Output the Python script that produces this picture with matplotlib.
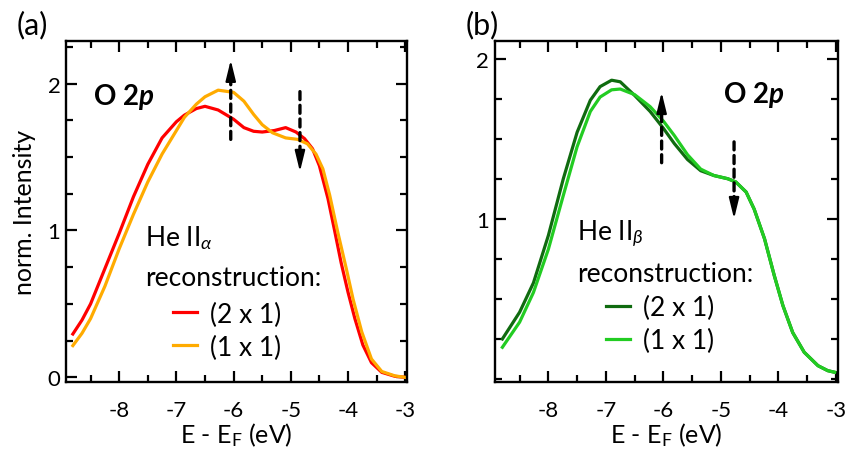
import matplotlib
matplotlib.use("Agg")
import matplotlib.pyplot as plt
from matplotlib.ticker import MultipleLocator

plt.rcParams['font.family'] = ['Lato', 'DejaVu Sans']
plt.rcParams['mathtext.fontset'] = 'custom'
plt.rcParams['mathtext.rm'] = 'Lato'
plt.rcParams['mathtext.it'] = 'Lato:italic'
plt.rcParams['mathtext.bf'] = 'Lato:bold'
plt.rcParams['mathtext.bfit'] = 'Lato:bold:italic'

# panel (a): He II alpha
e_red = [-8.81, -8.65, -8.5, -8.25, -8.0, -7.75, -7.5, -7.25, -7.0, -6.86, -6.65, -6.5,
         -6.27, -6.0, -5.82, -5.65, -5.5, -5.29, -5.09, -4.91, -4.76, -4.62, -4.5, -4.35,
         -4.24, -4.12, -4.0, -3.88, -3.74, -3.59, -3.41, -3.18, -3.0]
red_2x1 = [0.295, 0.39, 0.50, 0.74, 0.98, 1.23, 1.45, 1.63, 1.74, 1.785, 1.83, 1.845,
           1.82, 1.757, 1.70, 1.675, 1.67, 1.68, 1.70, 1.67, 1.625, 1.556, 1.44, 1.216,
           1.01, 0.78, 0.58, 0.40, 0.22, 0.10, 0.034, 0.007, 0.0]
e_orange = [-8.81, -8.65, -8.5, -8.25, -8.0, -7.75, -7.5, -7.25, -7.0, -6.86, -6.65,
            -6.5, -6.27, -6.0, -5.82, -5.65, -5.5, -5.32, -5.09, -4.88, -4.71, -4.56,
            -4.44, -4.32, -4.18, -4.03, -3.91, -3.76, -3.59, -3.41, -3.18, -3.0]
orange_1x1 = [0.216, 0.30, 0.40, 0.62, 0.875, 1.11, 1.33, 1.52, 1.68, 1.77, 1.86, 1.91,
              1.955, 1.94, 1.88, 1.79, 1.72, 1.665, 1.63, 1.62, 1.59, 1.52, 1.42, 1.24,
              0.99, 0.74, 0.53, 0.31, 0.125, 0.04, 0.01, 0.0]

# panel (b): He II beta
e_b = [-8.8, -8.5, -8.26, -8.0, -7.74, -7.5, -7.27, -7.1, -6.9, -6.75, -6.5, -6.23,
       -6.0, -5.81, -5.58, -5.35, -5.12, -4.88, -4.74, -4.56, -4.42, -4.24, -4.07,
       -3.92, -3.75, -3.55, -3.31, -3.14, -3.02]
dark_2x1 = [0.25, 0.417, 0.60, 0.896, 1.25, 1.54, 1.74, 1.825, 1.865, 1.855, 1.77, 1.67,
            1.565, 1.47, 1.37, 1.30, 1.27, 1.25, 1.23, 1.167, 1.06, 0.875, 0.645,
            0.458, 0.29, 0.167, 0.083, 0.052, 0.042]
light_1x1 = [0.198, 0.355, 0.54, 0.81, 1.146, 1.45, 1.67, 1.76, 1.805, 1.81, 1.775, 1.70,
             1.61, 1.52, 1.40, 1.31, 1.27, 1.25, 1.23, 1.167, 1.06, 0.875, 0.645,
             0.458, 0.29, 0.167, 0.083, 0.052, 0.042]

xticks = [-8, -7, -6, -5, -4, -3]

fig = plt.figure(figsize=(8.46, 4.56), dpi=100)
ax_a = fig.add_axes([0.078, 0.160, 0.403, 0.748])
ax_b = fig.add_axes([0.585, 0.160, 0.405, 0.748])

ann = 19


def style(ax):
    ax.set_xlim(-8.93, -2.97)
    ax.set_xticks(xticks)
    ax.set_xticklabels([str(t) for t in xticks])
    ax.xaxis.set_minor_locator(MultipleLocator(0.5))
    ax.yaxis.set_minor_locator(MultipleLocator(0.25))
    ax.tick_params(which='both', direction='in', top=True, right=True,
                   labelsize=16, width=1.6)
    ax.tick_params(axis='x', pad=13)
    ax.tick_params(axis='y', pad=4)
    ax.tick_params(which='major', length=8)
    ax.tick_params(which='minor', length=5)
    for s in ax.spines.values():
        s.set_linewidth(1.7)
    ax.set_xlabel(r"E - E$_\mathrm{F}$ (eV)", fontsize=18, labelpad=0)


def legend(ax, x, y):
    ax.legend(loc='upper left', bbox_to_anchor=(x, y), frameon=False, fontsize=ann,
              handlelength=0.9, handletextpad=0.5, labelspacing=0.3, borderpad=0,
              borderaxespad=0)


def dashed_arrow(ax, x, y0, y1, head):
    # dashed shaft, then a solid head ending at y1
    step = head if y1 > y0 else -head
    ax.annotate("", xy=(x, y1 - 0.6 * step), xytext=(x, y0),
                arrowprops=dict(arrowstyle='-', color='black', lw=2.4,
                                ls=(0, (2.4, 1.7)), shrinkA=0, shrinkB=0))
    ax.annotate("", xy=(x, y1), xytext=(x, y1 - step),
                arrowprops=dict(arrowstyle='-|>,head_length=0.9,head_width=0.22',
                                color='black', lw=1.5, mutation_scale=14,
                                shrinkA=0, shrinkB=0))


# (a)
ax_a.plot(e_red, red_2x1, color='#ff0000', lw=2.3, label='(2 x 1)')
ax_a.plot(e_orange, orange_1x1, color='#ffab00', lw=2.3, label='(1 x 1)')
style(ax_a)
ax_a.set_ylim(-0.032, 2.29)
ax_a.set_yticks([0, 1, 2])
ax_a.set_ylabel("norm. Intensity", fontsize=18, labelpad=8)
ax_a.text(0.079, 0.84, r"$\mathbf{O\ 2}\mathbfit{p}$", transform=ax_a.transAxes,
          fontsize=20, va='center')
ax_a.text(0.232, 0.402, r"He II$_\alpha$", transform=ax_a.transAxes, fontsize=ann,
          va='baseline')
ax_a.text(0.232, 0.284, "reconstruction:", transform=ax_a.transAxes, fontsize=ann,
          va='baseline')
legend(ax_a, 0.314, 0.236)
dashed_arrow(ax_a, -6.05, 1.62, 2.16, 0.12)
dashed_arrow(ax_a, -4.84, 1.945, 1.40, 0.12)
fig.text(0.02, 0.945, "(a)", fontsize=22, va='center')

# (b)
ax_b.plot(e_b, dark_2x1, color='#0f6b0f', lw=2.3, label='(2 x 1)')
ax_b.plot(e_b, light_1x1, color='#22cc22', lw=2.3, label='(1 x 1)')
style(ax_b)
ax_b.set_ylim(-0.019, 2.11)
ax_b.set_yticks([1, 2])
ax_b.text(0.665, 0.845, r"$\mathbf{O\ 2}\mathbfit{p}$", transform=ax_b.transAxes,
          fontsize=20, va='center')
ax_b.text(0.239, 0.415, r"He II$_\beta$", transform=ax_b.transAxes, fontsize=ann,
          va='baseline')
ax_b.text(0.239, 0.297, "reconstruction:", transform=ax_b.transAxes, fontsize=ann,
          va='baseline')
legend(ax_b, 0.324, 0.254)
dashed_arrow(ax_b, -6.03, 1.35, 1.79, 0.105)
dashed_arrow(ax_b, -4.77, 1.48, 1.0, 0.105)
fig.text(0.55, 0.945, "(b)", fontsize=22, va='center')

fig.savefig("out.png", dpi=100)
